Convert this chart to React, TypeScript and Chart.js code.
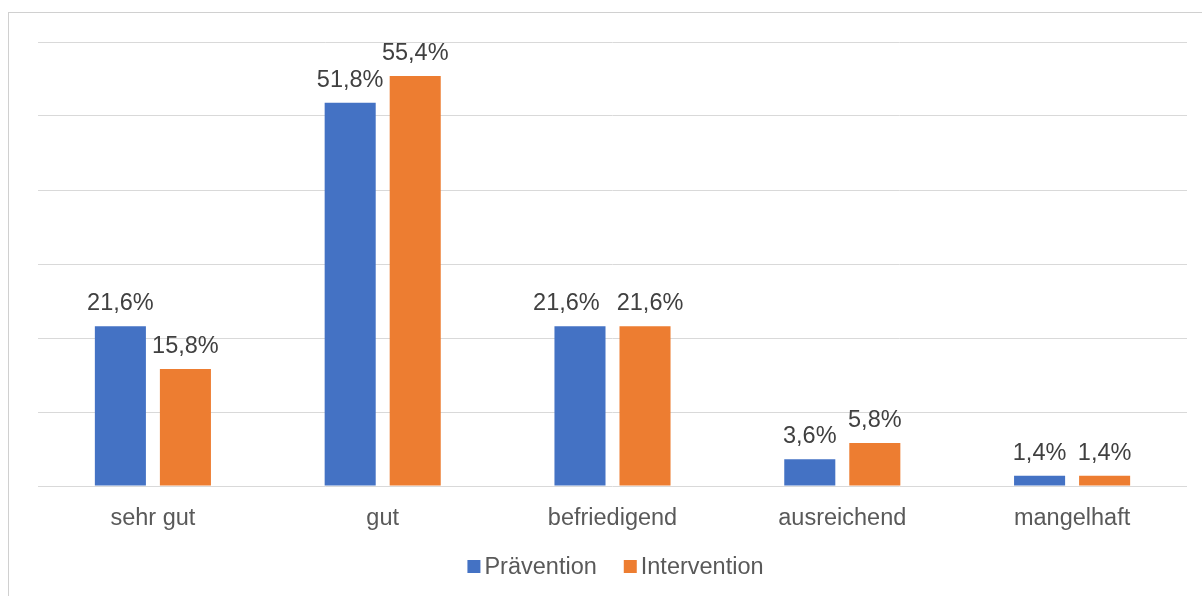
import React, { useEffect, useRef } from "react";
import { Chart, registerables } from "chart.js";

Chart.register(...registerables);

const categories = ["sehr gut", "gut", "befriedigend", "ausreichend", "mangelhaft"];
const praevention = [21.6, 51.8, 21.6, 3.6, 1.4];
const intervention = [15.8, 55.4, 21.6, 5.8, 1.4];
const seriesNames = ["Prävention", "Intervention"];
const seriesColors = ["#4472C4", "#ED7D31"];

const FONT = "'Liberation Sans', Arial, sans-serif";
const FS = 23.5;

const fmt = (v: number) => v.toFixed(1).replace(".", ",") + "%";

const valueLabels = {
  id: "valueLabels",
  afterDatasetsDraw(chart: any) {
    const ctx = chart.ctx;
    ctx.save();
    ctx.font = `${FS}px ${FONT}`;
    ctx.fillStyle = "#404040";
    ctx.textAlign = "center";
    ctx.textBaseline = "alphabetic";
    const n = chart.data.labels.length;
    const nd = chart.data.datasets.length;
    for (let j = 0; j < n; j++) {
      const labels: any[] = [];
      for (let i = 0; i < nd; i++) {
        const bar = chart.getDatasetMeta(i).data[j];
        const txt = fmt(chart.data.datasets[i].data[j] as number);
        labels.push({ txt, x: bar.x, y: bar.y - 16, w: ctx.measureText(txt).width });
      }
      // collision avoidance: only when neighbouring labels actually overlap
      for (let i = 1; i < labels.length; i++) {
        const a = labels[i - 1];
        const b = labels[i];
        const overlap = (a.w + b.w) / 2 - (b.x - a.x);
        if (Math.abs(a.y - b.y) < FS && overlap > 0) {
          const need = overlap + 17;
          a.x -= need * 0.73;
          b.x += need * 0.27;
        }
      }
      labels.forEach((l) => ctx.fillText(l.txt, l.x, l.y));
    }
    ctx.restore();
  },
};

const customLegend = {
  id: "customLegend",
  afterDraw(chart: any) {
    const ctx = chart.ctx;
    ctx.save();
    ctx.font = `${FS}px ${FONT}`;
    const box = 13;
    const gapText = 4;
    const gapItem = 27;
    const items = chart.data.datasets.map((ds: any) => ({
      label: ds.label as string,
      color: ds.backgroundColor as string,
      w: ctx.measureText(ds.label).width,
    }));
    let total = 0;
    items.forEach((it: any, i: number) => {
      total += box + gapText + it.w + (i < items.length - 1 ? gapItem : 0);
    });
    const cx = (chart.chartArea.left + chart.chartArea.right) / 2 + 3;
    let x = cx - total / 2;
    const cy = 566.5;
    items.forEach((it: any) => {
      ctx.fillStyle = it.color;
      ctx.fillRect(x, cy - box / 2, box, box);
      x += box + gapText;
      ctx.fillStyle = "#595959";
      ctx.textAlign = "left";
      ctx.textBaseline = "middle";
      ctx.fillText(it.label, x, cy + 1);
      x += it.w + gapItem;
    });
    ctx.restore();
  },
};

export default function App() {
  const ref = useRef<HTMLCanvasElement | null>(null);

  useEffect(() => {
    if (!ref.current) return;
    const chart = new Chart(ref.current, {
      type: "bar",
      data: {
        labels: categories,
        datasets: [
          {
            label: seriesNames[0],
            data: praevention,
            backgroundColor: seriesColors[0],
            categoryPercentage: 0.566,
            barPercentage: 0.785,
          },
          {
            label: seriesNames[1],
            data: intervention,
            backgroundColor: seriesColors[1],
            categoryPercentage: 0.566,
            barPercentage: 0.785,
          },
        ],
      },
      options: {
        responsive: false,
        animation: false,
        devicePixelRatio: 1,
        layout: { padding: { left: 38, right: 15, top: 42, bottom: 60 } },
        plugins: {
          legend: { display: false },
          tooltip: { enabled: false },
          title: { display: false },
        },
        scales: {
          x: {
            grid: { display: false },
            border: { display: false },
            ticks: {
              color: "#595959",
              font: { family: FONT, size: FS },
              padding: 10,
              maxRotation: 0,
            },
            afterFit: (s: any) => {
              s.height = 50;
            },
          },
          y: {
            min: 0,
            max: 60,
            ticks: { display: false, stepSize: 10 },
            grid: { color: "#d9d9d9", lineWidth: 1, drawTicks: false },
            border: { display: false },
            afterFit: (s: any) => {
              s.width = 0;
            },
          },
        },
      },
      plugins: [valueLabels, customLegend],
    });
    return () => chart.destroy();
  }, []);

  return (
    <div style={{ position: "fixed", inset: 0, overflow: "hidden", background: "#fff" }}>
      <div
        style={{
          position: "absolute",
          left: 8,
          top: 12,
          width: 1300,
          height: 700,
          border: "1px solid #d0d0d0",
          boxSizing: "border-box",
        }}
      />
      <canvas
        ref={ref}
        width={1202}
        height={596}
        style={{ position: "absolute", left: 0, top: 0, width: 1202, height: 596 }}
      />
    </div>
  );
}
